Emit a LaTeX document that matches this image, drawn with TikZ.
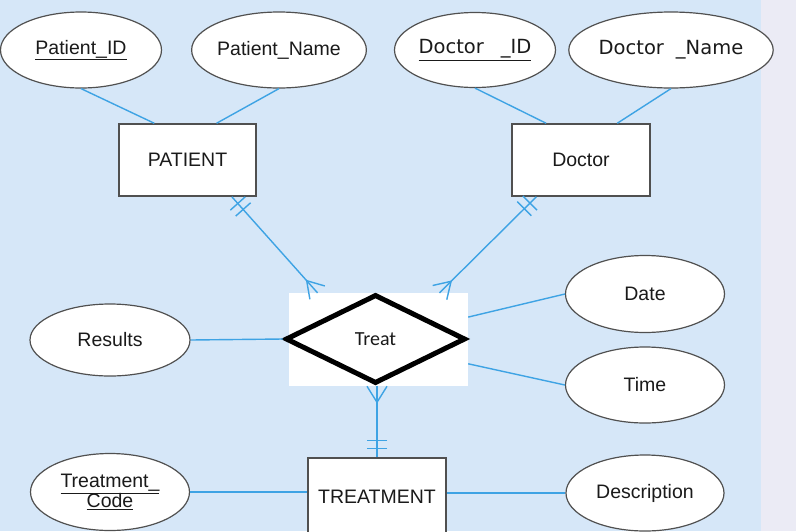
\documentclass[tikz,border=0pt]{standalone}
\usepackage{fontspec}
\setmainfont{Liberation Sans}
\newfontfamily\carlfont{Carlito}
\newfontfamily\dejafont{DejaVu Sans}
\usetikzlibrary{shapes.geometric,decorations.markings,calc}
\definecolor{bgblue}{RGB}{214,231,248}
\definecolor{bgside}{RGB}{235,235,245}
\definecolor{lineblue}{RGB}{62,163,228}
\definecolor{edgegray}{RGB}{80,80,80}
\definecolor{txt}{RGB}{26,26,26}
\begin{document}
\begin{tikzpicture}[x=1pt,y=-1pt,
  attr/.style={ellipse,draw=edgegray,line width=1.2pt,fill=white,text=txt,inner sep=0pt,
    font=\fontsize{19.5}{21}\selectfont},
  entity/.style={rectangle,draw=edgegray,line width=1.5pt,fill=white,text=txt,inner sep=0pt,
    font=\fontsize{19.5}{21}\selectfont},
  conn/.style={draw=lineblue,line width=1.4pt},
  onemany/.style={postaction={decorate},decoration={markings,
    mark=at position 9pt with {\draw[lineblue,line width=1.4pt] (0,-10pt)--(0,10pt);},
    mark=at position 17pt with {\draw[lineblue,line width=1.4pt] (0,-10pt)--(0,10pt);},
    mark=at position 0.999 with {\draw[lineblue,line width=1.4pt] (0,-10pt)--(-16pt,0)--(0,10pt);}}}
]
\useasboundingbox (0,0) rectangle (796,531);
\clip (0,0) rectangle (796,531);
\fill[bgblue] (0,0) rectangle (761,531);
\fill[bgside] (761,0) rectangle (796,531);

% attributes
\node[attr,minimum width=161pt,minimum height=76pt] (pid) at (81,50) {\underline{Patient\_ID}};
\node[attr,minimum width=159pt,minimum height=76pt] (pname) at (279,50) {Patient\_Name};
\node[attr,minimum width=161pt,minimum height=75pt,font=\dejafont\fontsize{19.5}{21}\selectfont] (did) at (475,50) {\underline{Doctor\hspace{17pt}\_ID}};
\node[attr,minimum width=162pt,minimum height=76pt,font=\dejafont\fontsize{19.5}{21}\selectfont] (dname) at (671,50) {Doctor\hspace{12pt}\_Name};
\node[attr,minimum width=160pt,minimum height=72pt] (res) at (110,340) {Results};
\node[attr,minimum width=159pt,minimum height=77pt] (date) at (645,294) {Date};
\node[attr,minimum width=159pt,minimum height=76pt] (time) at (645,385) {Time};
\node[attr,minimum width=159pt,minimum height=77pt,align=center] (tcode) at (110,492) {\underline{Treatment\_}\\[-1pt]\underline{Code}};
\node[attr,minimum width=158pt,minimum height=76pt] (desc) at (645,493) {Description};

% entities
\node[entity,minimum width=137pt,minimum height=72pt] (pat) at (187.5,160) {PATIENT};
\node[entity,minimum width=138pt,minimum height=72pt] (doc) at (581,160) {Doctor};
\node[entity,minimum width=138pt,minimum height=78pt] (trt) at (377,497) {TREATMENT};

% relationship
\node[fill=white,draw=none,minimum width=179pt,minimum height=93pt,inner sep=0pt] (tbox) at (378.5,339.5) {};
\node[diamond,draw=black,fill=white,line width=5pt,line join=miter,minimum width=180pt,minimum height=89pt,
  inner sep=0pt,text=txt,font=\carlfont\fontsize{20}{22}\selectfont] (treat) at (375.5,339) {Treat};

% attribute connectors
\draw[conn] (pid.south) -- ($(pat.north west)!0.26!(pat.north east)$);
\draw[conn] (pname.south) -- ($(pat.north west)!0.71!(pat.north east)$);
\draw[conn] (did.south) -- ($(doc.north west)!0.25!(doc.north east)$);
\draw[conn] (dname.south) -- ($(doc.north west)!0.76!(doc.north east)$);
\draw[conn] (res.east) -- (treat.west);
\draw[conn] ($(tbox.north east)!0.26!(tbox.south east)$) -- (date.west);
\draw[conn] ($(tbox.north east)!0.76!(tbox.south east)$) -- (time.west);
\draw[conn] (tcode.east) -- (tcode.east -| trt.west);
\draw[conn] (trt.east |- desc.west) -- (desc.west);

% relationship connectors
\draw[conn,onemany] ($(pat.south west)!0.82!(pat.south east)$) -- ($(tbox.north west)!0.16!(tbox.north east)$);
\draw[conn,onemany] ($(doc.south west)!0.18!(doc.south east)$) -- ($(tbox.north west)!0.84!(tbox.north east)$);
\draw[conn,onemany] (trt.north) -- (trt.north |- tbox.south);
\end{tikzpicture}
\end{document}
